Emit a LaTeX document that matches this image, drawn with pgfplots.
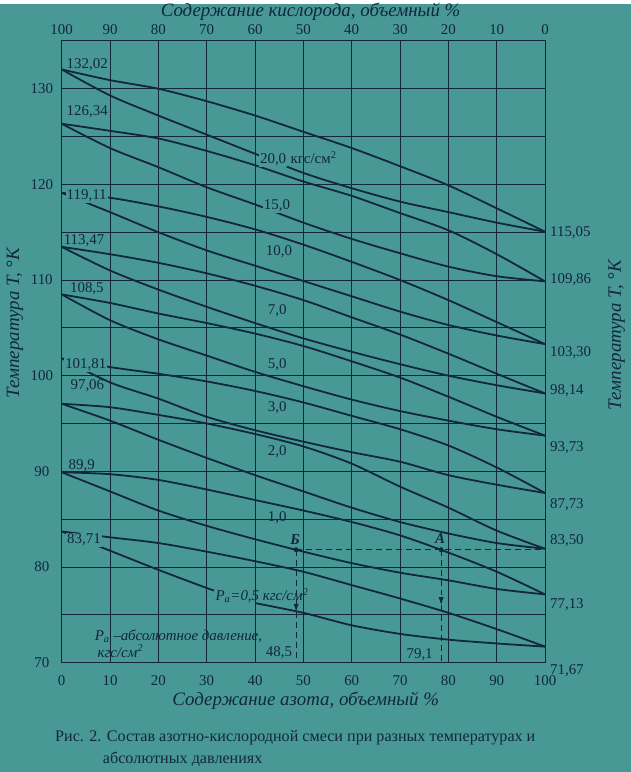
\documentclass[border=0pt]{standalone}
\usepackage{fontspec}
\setmainfont{Liberation Serif}
\usepackage{pgfplots}
\usepackage{pgfplotstable}
\pgfplotsset{compat=1.18}
\usetikzlibrary{backgrounds,arrows.meta}

\definecolor{paper}{RGB}{72,152,150}
\definecolor{ink}{RGB}{18,38,62}

\newcommand{\nf}{\fontsize{15}{17}\selectfont}
\newcommand{\tf}{\fontsize{19}{21}\selectfont\itshape}
\newcommand{\cf}{\fontsize{16.2}{18}\selectfont}

\tikzset{
  curve/.style={ink, line width=1.8pt, smooth},
  lab/.style={text=ink, font=\nf, inner sep=1pt},
  dsh/.style={ink, line width=1pt, dash pattern=on 6pt off 4pt},
}

% v = vapour line, l = liquid line, per pressure (kgf/cm2)
\pgfplotstableread{
x   v20    l20    v15    l15    v10    l10    v7     l7     v5     l5     v3     l3     v2     l2     v1     l1     v05
0   132.02 132.02 126.34 126.34 119.11 119.11 113.47 113.47 108.50 108.50 101.81 101.81 97.06  97.06  89.90  89.90  83.71
10  130.9  129.3  125.6  123.8  118.6  117.1  112.7  111.0  107.6  105.8  100.9  99.3   96.7   95.3   89.7   87.9   83.1
20  130.0  127.2  124.8  121.8  117.7  115.0  111.8  109.0  106.5  103.8  100.2  97.6   95.9   93.3   89.1   85.9   82.5
30  128.7  125.2  123.5  119.7  116.6  113.1  110.7  107.2  105.5  102.1  99.4   95.7   95.0   91.4   88.1   84.3   81.6
40  127.2  123.2  122.0  117.9  115.3  111.5  109.4  105.5  104.4  100.4  98.4   94.3   93.9   89.6   87.0   82.9   80.6
50  125.5  121.2  120.3  116.0  113.7  109.9  107.9  103.9  103.1  98.9   97.2   93.1   92.6   87.9   85.9   81.6   79.5
60  123.8  119.6  118.8  114.3  111.9  108.3  106.1  102.5  101.5  97.5   95.8   92.0   90.8   86.2   84.7   80.4   78.1
70  121.9  118.2  117.0  112.8  110.0  106.7  104.3  101.2  99.8   96.3   94.4   91.0   88.4   84.7   83.3   79.4   76.7
80  119.9  117.1  115.2  111.4  107.9  105.3  102.3  100.0  97.8   95.3   92.7   89.6   86.2   83.5   81.5   78.6   75.2
90  117.5  116.0  112.7  110.4  105.6  104.2  100.2  99.0   95.7   94.4   90.4   88.6   83.8   82.5   79.5   77.7   73.5
100 115.05 115.05 109.86 109.86 103.30 103.30 98.14  98.14  93.73  93.73  87.73  87.73  81.90  81.90  77.13  77.13  71.67
}\curves

% 0.5 kgf/cm2 liquid line, broken by its label
\pgfplotstableread{
x    t
0    83.71
10   81.7
20   79.7
30   77.8
31.5 77.55
}\lowA
\pgfplotstableread{
x    t
40.2 76.2
50   75.2
60   73.9
70   73.0
80   72.4
90   72.0
100  71.67
}\lowB

\begin{document}
\begin{tikzpicture}[font=\nf]
\begin{axis}[
  name=main, scale only axis, width=486pt, height=625pt,
  xmin=0, xmax=100, ymin=70, ymax=135,
  clip=false,
  xtick={0,10,...,100}, ytick={70,80,...,130},
  minor ytick={75,85,...,125},
  grid=both,
  major grid style={ink, line width=0.75pt},
  minor grid style={ink, line width=0.75pt},
  axis line style={ink, line width=1.1pt},
  major tick length=0pt, minor tick length=0pt,
  ticklabel style={font=\nf, text=ink},
  /pgf/number format/assume math mode=true,
  xticklabel style={anchor=center, yshift=-18pt},
  yticklabel style={anchor=center, xshift=-20pt},
]
\foreach \c in {v20,l20,v15,l15,v10,l10,v7,l7,v5,l5,v3,l3,v2,l2,v1,l1,v05}{
  \addplot[curve] table[x=x, y=\c] {\curves};
}
\addplot[curve] table[x=x, y=t] {\lowA};
\addplot[curve] table[x=x, y=t] {\lowB};

% points A and B and their construction lines
\addplot[dsh] coordinates {(48.5,81.8) (100,81.8)};
\addplot[dsh, -{Latex[length=8pt,width=5pt]}] coordinates {(48.5,81.8) (48.5,75.3)};
\addplot[dsh] coordinates {(48.5,75.3) (48.5,70)};
\addplot[dsh, -{Latex[length=8pt,width=5pt]}] coordinates {(78.5,81.8) (78.5,76.0)};
\addplot[dsh] coordinates {(78.5,76.0) (78.5,70)};
\addplot[only marks, mark=*, mark size=2.2pt, ink] coordinates {(48.5,81.8) (78.5,81.8)};

\node[lab, font=\nf\bfseries\itshape] at (axis cs:48.3,82.9) {Б};
\node[lab, font=\nf\bfseries\itshape] at (axis cs:78.3,83.0) {А};
\node[lab, anchor=east] at (axis cs:47.9,71.0) {48,5};
\node[lab, anchor=east] at (axis cs:77.0,70.8) {79,1};

% values at the oxygen side
\node[lab, anchor=west] at (axis cs:0.8,132.5) {132,02};
\node[lab, anchor=west] at (axis cs:0.8,127.6) {126,34};
\node[lab, anchor=west, fill=paper] at (axis cs:0.8,118.8) {119,11};
\node[lab, anchor=west] at (axis cs:0.2,114.1) {113,47};
\node[lab, anchor=west] at (axis cs:1.5,109.1) {108,5};
\node[lab, anchor=west, fill=paper] at (axis cs:0.5,101.1) {101,81};
\node[lab, anchor=west] at (axis cs:1.6,99.0) {97,06};
\node[lab, anchor=west] at (axis cs:1.2,90.6) {89,9};
\node[lab, anchor=west, fill=paper] at (axis cs:0.9,82.8) {83,71};

% values at the nitrogen side
\node[lab, anchor=west] at (axis cs:100.8,114.9) {115,05};
\node[lab, anchor=west] at (axis cs:100.8,110.0) {109,86};
\node[lab, anchor=west] at (axis cs:100.8,102.4) {103,30};
\node[lab, anchor=west] at (axis cs:100.8,98.4) {98,14};
\node[lab, anchor=west] at (axis cs:100.8,92.5) {93,73};
\node[lab, anchor=west] at (axis cs:100.8,86.5) {87,73};
\node[lab, anchor=west] at (axis cs:100.8,82.7) {83,50};
\node[lab, anchor=west] at (axis cs:100.8,76.1) {77,13};
\node[lab, anchor=west] at (axis cs:100.8,69.2) {71,67};

% pressures
\node[lab, anchor=west, fill=paper] (p20) at (axis cs:40.8,122.6) {20,0};
\node[lab, anchor=base west, inner sep=0pt] at ([xshift=3pt]p20.base east) {кгс/см\textsuperscript{2}};
\node[lab, anchor=west, fill=paper] at (axis cs:41.6,117.8) {15,0};
\node[lab, anchor=west] at (axis cs:42.0,113.0) {10,0};
\node[lab, anchor=west] at (axis cs:42.4,106.8) {7,0};
\node[lab, anchor=west] at (axis cs:42.4,101.2) {5,0};
\node[lab, anchor=west] at (axis cs:42.4,96.7) {3,0};
\node[lab, anchor=west] at (axis cs:42.4,92.0) {2,0};
\node[lab, anchor=west] at (axis cs:42.4,85.1) {1,0};
\node[lab, anchor=west, font=\nf\itshape] at (axis cs:31.6,77.0) {P\textsubscript{a}=0,5 кгс/см\textsuperscript{2}};
\node[lab, anchor=west, font=\nf\itshape] at (axis cs:6.6,72.8) {P\textsubscript{a} –абсолютное давление,};
\node[lab, anchor=west, font=\nf\itshape] at (axis cs:7.2,71.2) {кгс/см\textsuperscript{2}};

% axis titles and caption
\node[text=ink, font=\tf] at ([yshift=29pt]rel axis cs:0.515,1) {Содержание кислорода, объемный \%};
\node[text=ink, font=\tf] at ([yshift=-38pt]rel axis cs:0.505,0) {Содержание азота, объемный \%};
\node[text=ink, font=\tf, rotate=90] at ([xshift=-47pt]rel axis cs:0,0.546) {Температура T, °K};
\node[text=ink, font=\tf, rotate=90] at ([xshift=72pt]rel axis cs:1,0.527) {Температура T, °K};
\node[text=ink, font=\cf, anchor=west] at ([xshift=-10pt, yshift=-76pt]rel axis cs:0,0) {Рис. 2. Состав азотно-кислородной смеси при разных температурах и};
\node[text=ink, font=\cf, anchor=west] at ([xshift=38pt, yshift=-97pt]rel axis cs:0,0) {абсолютных давлениях};
\end{axis}

\begin{axis}[
  at={(main.south west)}, anchor=south west,
  scale only axis, width=486pt, height=625pt,
  xmin=0, xmax=100, ymin=70, ymax=135,
  x dir=reverse,
  axis x line*=top, axis y line=none,
  axis line style={draw=none},
  xtick={0,10,...,100},
  major tick length=0pt,
  ticklabel style={font=\nf, text=ink},
  /pgf/number format/assume math mode=true,
  xticklabel style={anchor=center, yshift=11pt},
]
\end{axis}

\path[use as bounding box] ([shift={(-62pt,-110pt)}]main.south west) rectangle ++(634pt,772pt);
\begin{scope}[on background layer]
\fill[paper] ([shift={(-62pt,-110pt)}]main.south west) rectangle ++(634pt,772pt);
\end{scope}
\end{tikzpicture}
\end{document}
